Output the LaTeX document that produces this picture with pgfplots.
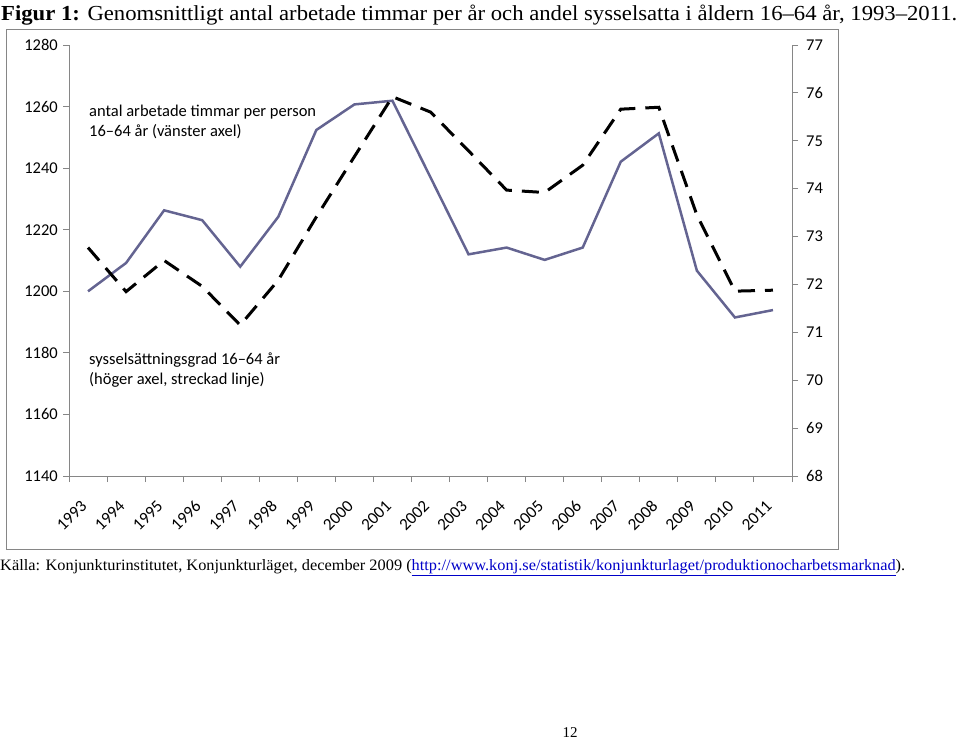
\documentclass[border=0pt]{standalone}
\usepackage{fontspec}
\setmainfont{Liberation Serif}
\newfontfamily\calibri{Carlito}
\usepackage{graphicx}
\usepackage{pgfplots}
\pgfplotsset{compat=1.18}
\definecolor{axgray}{RGB}{134,134,134}
\definecolor{solidc}{RGB}{100,100,145}
\definecolor{linkblue}{RGB}{0,0,200}

\pgfplotstableread{
x y
0.5 1200.0
1.5 1209.2
2.5 1226.3
3.5 1223.1
4.5 1208.0
5.5 1224.2
6.5 1252.4
7.5 1260.7
8.5 1261.9
9.5 1237.0
10.5 1212.0
11.5 1214.2
12.5 1210.2
13.5 1214.2
14.5 1242.1
15.5 1251.3
16.5 1206.7
17.5 1191.5
18.5 1193.9
}\hours

\pgfplotstableread{
x y
0.5 72.77
1.5 71.85
2.5 72.50
3.5 71.96
4.5 71.15
5.5 72.09
6.5 73.41
7.5 74.67
8.5 75.92
9.5 75.60
10.5 74.79
11.5 73.97
12.5 73.92
13.5 74.49
14.5 75.66
15.5 75.70
16.5 73.45
17.5 71.86
18.5 71.88
}\emp

\pgfplotsset{
  mybase/.style={
    at={(69pt,-476pt)}, anchor=south west,
    width=723pt, height=431pt, scale only axis,
    xmin=0, xmax=19,
    axis line style={axgray, line width=1pt},
    tick style={axgray, line width=1pt},
    tick align=outside,
    major tick length=6pt,
    /pgf/number format/assume math mode=true,
    /pgf/number format/1000 sep={},
    tick label style={font=\calibri\fontsize{16.5}{18}\selectfont, text=black},
    clip=false,
  }
}

\begin{document}
\begin{tikzpicture}
\path[use as bounding box] (0,0) rectangle (960pt,-741pt);

\node[anchor=base west, inner sep=0pt] at (1pt,-21pt)
  {\resizebox{956pt}{15.5pt}{\textbf{Figur 1:} Genomsnittligt antal arbetade timmar per år och andel sysselsatta i åldern 16–64 år, 1993–2011.}};

\draw[axgray, line width=1pt] (6pt,-30pt) rectangle (838pt,-549pt);

\begin{axis}[mybase,
  ymin=1140, ymax=1280,
  ytick={1140,1160,...,1280},
  xtick={0,...,19},
  xticklabels={1993,1994,1995,1996,1997,1998,1999,2000,2001,2002,2003,2004,2005,2006,2007,2008,2009,2010,2011,{}},
  axis x line*=bottom, axis y line*=left,
  x axis line style={-}, y axis line style={-},
  xticklabel style={inner sep=0pt, xshift=15pt, yshift=-21pt, rotate=45, anchor=east, font=\calibri\fontsize{17}{18}\selectfont},
  yticklabel style={inner sep=0pt, xshift=-5pt},
]
\addplot[solidc, line width=2.5pt] table[x=x, y=y] {\hours};
\end{axis}

\begin{axis}[mybase,
  ymin=68, ymax=77,
  ytick={68,...,77},
  axis y line*=right, axis x line=none,
  y axis line style={-},
  yticklabel style={inner sep=0pt, xshift=8pt},
]
\addplot[black, line width=3pt, dash pattern=on 17pt off 10pt] table[x=x, y=y] {\emp};
\end{axis}

\begin{scope}[every node/.style={anchor=base west, inner sep=0pt, font=\calibri\fontsize{16.5}{18}\selectfont}]
\node at (89pt,-116.7pt) {antal arbetade timmar per person};
\node at (89pt,-136.7pt) {16–64 år (vänster axel)};
\node at (89pt,-364pt) {sysselsättningsgrad 16–64 år};
\node at (89pt,-384pt) {(höger axel, streckad linje)};
\end{scope}

\node[anchor=base west, inner sep=0pt] at (0pt,-570pt)
  {\resizebox{905pt}{11pt}{Källa: Konjunkturinstitutet, Konjunkturläget, december 2009 (\textcolor{linkblue}{\underline{http://www.konj.se/statistik/konjunkturlaget/produktionocharbetsmarknad}}).}};

\node[anchor=base, inner sep=0pt, font=\fontsize{15}{17}\selectfont] at (570pt,-737pt) {12};
\end{tikzpicture}
\end{document}
